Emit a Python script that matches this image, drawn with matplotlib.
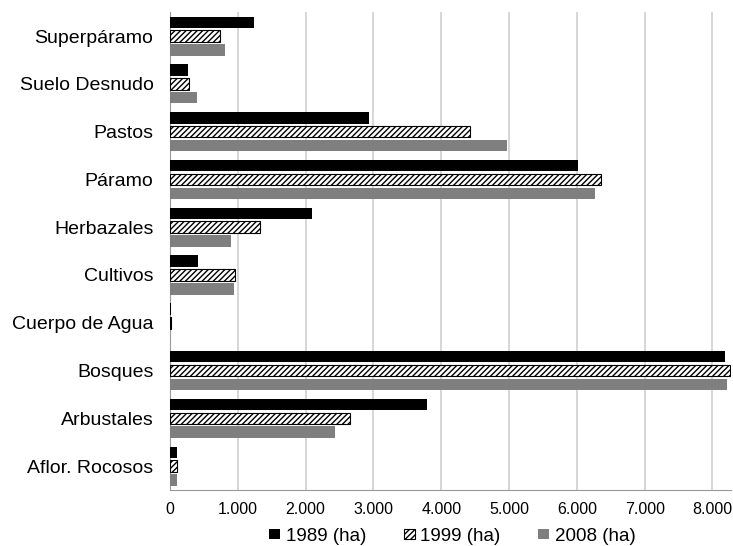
import matplotlib.pyplot as plt
import numpy as np
from matplotlib.ticker import FuncFormatter

plt.rcParams['font.family'] = ['Liberation Sans', 'DejaVu Sans']
plt.rcParams['hatch.linewidth'] = 1.0

# land cover classes (top to bottom)
categories = ['Superpáramo', 'Suelo Desnudo', 'Pastos', 'Páramo', 'Herbazales',
              'Cultivos', 'Cuerpo de Agua', 'Bosques', 'Arbustales', 'Aflor. Rocosos']
ha_1989 = [1234, 271, 2930, 6013, 2090, 409, 10, 8181, 3786, 99]
ha_1999 = [743, 276, 4420, 6353, 1323, 954, 15, 8255, 2650, 103]
ha_2008 = [817, 404, 4966, 6264, 895, 940, 5, 8221, 2430, 99]
series_names = ['1989 (ha)', '1999 (ha)', '2008 (ha)']

fig = plt.figure(figsize=(7.33, 5.46), dpi=100)
ax = fig.add_axes([0.232, 0.1026, 0.765, 0.875])

y = np.arange(len(categories))
h = 0.24
pitch = 0.29

ax.barh(y - pitch, ha_1989, height=h, color='black', label=series_names[0], zorder=3)
ax.barh(y, ha_1999, height=h, color='white', edgecolor='black', hatch='//////',
        linewidth=0.8, label=series_names[1], zorder=3)
ax.barh(y + pitch, ha_2008, height=h, color='#7f7f7f', label=series_names[2], zorder=3)

ax.set_ylim(len(categories) - 0.5, -0.5)
ax.set_xlim(0, 8270)
ax.set_yticks(y)
ax.set_yticklabels(categories, fontsize=14)
ax.set_xticks(np.arange(0, 8001, 1000))
ax.xaxis.set_major_formatter(FuncFormatter(lambda v, p: f'{int(v):,}'.replace(',', '.')))
ax.tick_params(axis='x', labelsize=11.5, length=0, pad=9)
ax.tick_params(axis='y', length=0, pad=12)

ax.grid(axis='x', color='#d0d0d0', linewidth=1.2, zorder=0)
for s in ['top', 'right']:
    ax.spines[s].set_visible(False)
ax.spines['left'].set_color('#999999')
ax.spines['bottom'].set_color('#999999')

handles, labels = ax.get_legend_handles_labels()
fig.legend(handles, labels, loc='center', bbox_to_anchor=(0.617, 0.018), ncol=3,
           frameon=False, fontsize=13.5, handlelength=0.6, handleheight=0.45,
           handletextpad=0.3, columnspacing=2.0, borderpad=0.1)

fig.savefig('out.png', dpi=100)
